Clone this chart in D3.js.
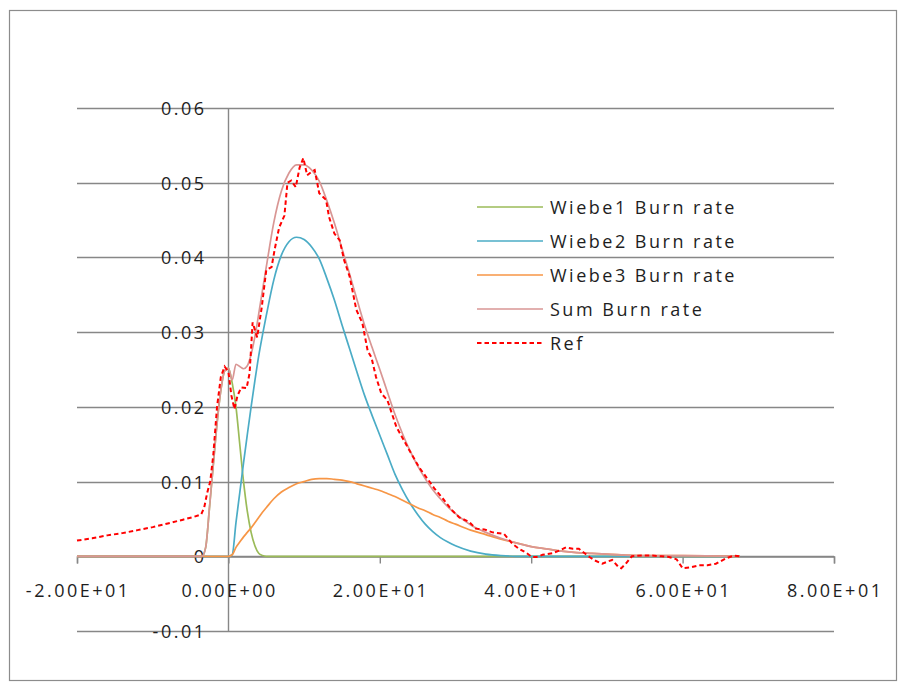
<!DOCTYPE html>
<html>
<head>
<meta charset="utf-8">
<script src="https://cdn.jsdelivr.net/npm/d3@7"></script>
<style>
  html, body { margin: 0; padding: 0; background: #fff; }
  svg { display: block; }
  text { font-family: "Open Sans", "Liberation Sans", sans-serif; fill: #1e1e1e; }
</style>
</head>
<body>
<svg id="chart" width="899" height="683"></svg>
<script>
// ---------------- data ----------------
const gridX = [-20, -5, -4, -3.5, -3, -2.5, -2, -1.5, -1, -0.5, 0, 0.5, 1, 1.5, 2, 2.5, 3, 3.5, 4, 4.5, 5,
  6, 7, 8, 9, 10, 11, 12, 13, 14, 15, 16, 17, 18, 19, 20, 21, 22, 23, 24, 25, 26, 27, 28, 29, 30,
  32, 34, 36, 38, 40, 42, 44, 46, 48, 50, 55, 60, 67.5];

const wiebe1 = [0, 0, 0, 0, 0.0012, 0.0065, 0.0122, 0.0178, 0.0222, 0.0248, 0.0252, 0.0232, 0.0200, 0.0150, 0.0100, 0.0060, 0.0032, 0.0014, 0.0004, 0.0001, 0,
  0, 0, 0, 0, 0, 0, 0, 0, 0, 0, 0, 0, 0, 0, 0, 0, 0, 0, 0, 0, 0, 0, 0, 0, 0,
  0, 0, 0, 0, 0, 0, 0, 0, 0, 0, 0, 0, 0];

const wiebe2 = [0, 0, 0, 0, 0, 0, 0, 0, 0, 0, 0, 0.0002, 0.0045, 0.0085, 0.0125, 0.0163, 0.0200, 0.0235, 0.0268, 0.0296, 0.0322,
  0.0370, 0.0403, 0.0421, 0.0427, 0.0424, 0.0414, 0.0398, 0.0372, 0.0343, 0.0310, 0.0278, 0.0246, 0.0215, 0.0188, 0.0162, 0.0136, 0.0110, 0.0089, 0.0071, 0.0056, 0.0043, 0.0033, 0.0025, 0.0019, 0.0014,
  0.0007, 0.0003, 0.0001, 0, 0, 0, 0, 0, 0, 0, 0, 0, 0];

const wiebe3 = [0, 0, 0, 0, 0, 0, 0, 0, 0, 0, 0, 0.0002, 0.0012, 0.0019, 0.0026, 0.0032, 0.0038, 0.0045, 0.0052, 0.0059, 0.0065,
  0.0077, 0.0086, 0.0092, 0.0097, 0.0100, 0.0103, 0.0104, 0.0104, 0.0103, 0.0102, 0.0100, 0.0097, 0.0094, 0.0091, 0.0088, 0.0084, 0.0080, 0.0075, 0.0070, 0.0065, 0.0061, 0.0056, 0.0052, 0.0047, 0.0043,
  0.0035, 0.0029, 0.0023, 0.0018, 0.0013, 0.0010, 0.0007, 0.0005, 0.0004, 0.0003, 0.0001, 0.0001, 0];

const sumRate = [0, 0, 0, 0, 0.0012, 0.0065, 0.0122, 0.0178, 0.0222, 0.0248, 0.0252, 0.0236, 0.0257, 0.0254, 0.0251, 0.0255, 0.0270, 0.0294, 0.0324, 0.0356, 0.0387,
  0.0447, 0.0489, 0.0513, 0.0524, 0.0524, 0.0517, 0.0502, 0.0476, 0.0446, 0.0412, 0.0378, 0.0343, 0.0309, 0.0279, 0.0250, 0.0220, 0.0190, 0.0164, 0.0141, 0.0121, 0.0104, 0.0089, 0.0077, 0.0066, 0.0057,
  0.0042, 0.0032, 0.0024, 0.0018, 0.0013, 0.0010, 0.0007, 0.0005, 0.0004, 0.0003, 0.0001, 0.0001, 0];

const refX = [-20, -18, -16, -14, -12, -10, -8, -6, -4.5, -3.6, -3.2, -2.8, -2.4, -2.0, -1.5, -1.0, -0.5, 0.0, 0.4, 0.8,
  1.2, 1.7, 2.4, 2.8, 3.2, 3.8, 4.4, 5.0, 5.7, 6.1, 6.7, 7.4, 7.8, 8.3, 8.9, 9.4, 9.9, 10.4, 10.9, 11.4,
  12.0, 12.9, 13.3, 14.0, 14.7, 15.3, 16.0, 16.9, 17.7, 18.4, 18.9, 19.5, 20.2, 21.0, 22.2, 23.9, 25.2, 26.2, 27.2, 28.5,
  29.5, 30.5, 31.8, 32.7, 33.8, 34.9, 36.4, 37.5, 38.4, 39.3, 40.1, 40.7, 41.5, 42.8, 43.8, 44.6, 45.5, 46.3, 47.7, 48.5,
  49.4, 50.1, 50.7, 51.5, 51.9, 52.5, 53.3, 54.5, 56.0, 57.2, 58.2, 59.2, 60.0, 61.0, 62.2, 63.3, 64.4, 65.7, 66.8, 67.5];

const refY = [0.0021, 0.0024, 0.0028, 0.0031, 0.0035, 0.0039, 0.0044, 0.0049, 0.0053, 0.0056, 0.0065, 0.0085, 0.0100, 0.0135, 0.0200, 0.0240, 0.0254, 0.0247, 0.0215, 0.0197,
  0.0215, 0.0226, 0.0225, 0.0245, 0.0313, 0.0293, 0.0333, 0.0383, 0.0387, 0.0410, 0.0440, 0.0456, 0.0500, 0.0503, 0.0494, 0.0520, 0.0533, 0.0510, 0.0514, 0.0517,
  0.0486, 0.0477, 0.0454, 0.0432, 0.0423, 0.0396, 0.0375, 0.0330, 0.0312, 0.0275, 0.0266, 0.0240, 0.0218, 0.0209, 0.0173, 0.0142, 0.0119, 0.0105, 0.0091, 0.0075,
  0.0062, 0.0052, 0.0046, 0.0037, 0.0036, 0.0032, 0.0030, 0.0017, 0.0010, 0.0005, -0.0001, -0.0001, 0.0002, 0.0004, 0.0008, 0.0012, 0.0010, 0.0010, -0.0001, -0.0006,
  -0.0010, -0.0007, -0.0005, -0.0014, -0.0016, -0.0010, 0.0000, 0.0001, 0.0001, 0.0000, -0.0001, -0.0004, -0.0016, -0.0015, -0.0012, -0.0012, -0.0010, -0.0003, 0.0001, 0.0000];

const xTicks = [-20, 0, 20, 40, 60, 80];
const xTickLabels = ["-2.00E+01", "0.00E+00", "2.00E+01", "4.00E+01", "6.00E+01", "8.00E+01"];
const yTicks = [-0.01, 0, 0.01, 0.02, 0.03, 0.04, 0.05, 0.06];
const yTickLabels = ["-0.01", "0", "0.01", "0.02", "0.03", "0.04", "0.05", "0.06"];

const seriesNames = ["Wiebe1 Burn rate", "Wiebe2 Burn rate", "Wiebe3 Burn rate", "Sum Burn rate", "Ref"];
const seriesColors = ["#9bbb59", "#4bacc6", "#f79646", "#d99694", "#ff0000"];

// ---------------- drawing ----------------
const LS = 2.5;      // letter spacing
const FS = "18px";   // font size

const svg = d3.select("#chart");
svg.append("rect").attr("x", 0).attr("y", 0).attr("width", 899).attr("height", 683).attr("fill", "#fff");
svg.append("rect").attr("x", 9.5).attr("y", 10.5).attr("width", 887).attr("height", 670)
  .attr("fill", "none").attr("stroke", "#8c8c8c").attr("stroke-width", 1.2);

const x = d3.scaleLinear().domain([-20, 80]).range([77, 834]);
const y = d3.scaleLinear().domain([-0.01, 0.06]).range([631, 108]);

const gridColor = "#878787";

// horizontal gridlines
svg.append("g").selectAll("line").data(yTicks).join("line")
  .attr("x1", x(-20)).attr("x2", x(80))
  .attr("y1", d => Math.round(y(d)) + 0.5).attr("y2", d => Math.round(y(d)) + 0.5)
  .attr("stroke", gridColor).attr("stroke-width", 1.4);

// vertical axis line at x = 0
svg.append("line")
  .attr("x1", Math.round(x(0)) + 0.5).attr("x2", Math.round(x(0)) + 0.5)
  .attr("y1", y(0.06)).attr("y2", y(-0.01))
  .attr("stroke", gridColor).attr("stroke-width", 1.4);

// x axis at y = 0 with ticks
const xAxis = d3.axisBottom(x).tickValues(xTicks).tickSize(7).tickFormat("");
const gx = svg.append("g").attr("transform", `translate(0,${Math.round(y(0)) + 0.5})`).call(xAxis);
gx.select(".domain").attr("stroke", gridColor).attr("stroke-width", 1.4);
gx.selectAll(".tick line").attr("stroke", gridColor).attr("stroke-width", 1.4);

// x tick labels
svg.append("g").selectAll("text").data(xTicks).join("text")
  .attr("x", d => x(d) + LS / 2).attr("y", 590)
  .attr("text-anchor", "middle").attr("dominant-baseline", "central")
  .style("font-size", FS).style("letter-spacing", LS + "px")
  .text((d, i) => xTickLabels[i]);

// y tick labels
svg.append("g").selectAll("text").data(yTicks).join("text")
  .attr("x", 204 + LS).attr("y", d => y(d))
  .attr("text-anchor", "end").attr("dominant-baseline", "central")
  .style("font-size", FS).style("letter-spacing", LS + "px")
  .text((d, i) => yTickLabels[i]);

// series
const smooth = d3.line().x(d => x(d[0])).y(d => y(d[1])).curve(d3.curveMonotoneX);
const plain = d3.line().x(d => x(d[0])).y(d => y(d[1]));

const gridSeries = [wiebe1, wiebe2, wiebe3, sumRate];
gridSeries.forEach((vals, i) => {
  svg.append("path")
    .datum(gridX.map((xx, j) => [xx, vals[j]]))
    .attr("d", smooth)
    .attr("fill", "none")
    .attr("stroke", seriesColors[i])
    .attr("stroke-width", 1.7);
});

svg.append("path")
  .datum(refX.map((xx, j) => [xx, refY[j]]))
  .attr("d", plain)
  .attr("fill", "none")
  .attr("stroke", seriesColors[4])
  .attr("stroke-width", 2)
  .attr("stroke-dasharray", "4.5,3");

// legend
const legendRows = [207, 241, 275, 309, 343];
const lg = svg.append("g");
seriesNames.forEach((name, i) => {
  const ly = legendRows[i];
  lg.append("line")
    .attr("x1", 477).attr("x2", 543).attr("y1", ly).attr("y2", ly)
    .attr("stroke", seriesColors[i])
    .attr("stroke-width", i === 4 ? 2 : 1.7)
    .attr("stroke-dasharray", i === 4 ? "4.5,3" : null);
  lg.append("text")
    .attr("x", 550).attr("y", ly)
    .attr("dominant-baseline", "central")
    .style("font-size", FS).style("letter-spacing", LS + "px")
    .text(name);
});
</script>
</body>
</html>
